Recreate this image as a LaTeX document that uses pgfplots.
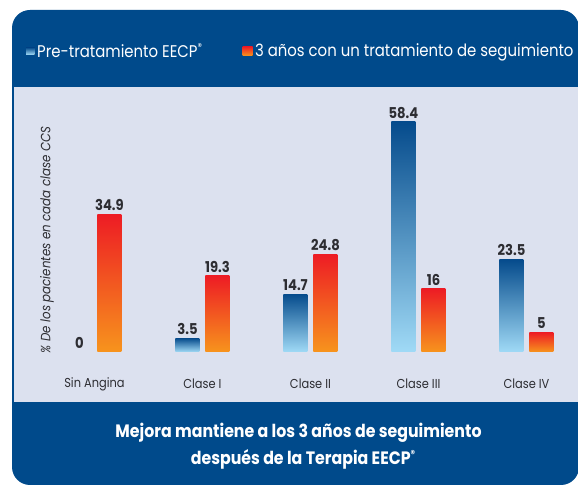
\documentclass[border=0pt]{standalone}
\usepackage{fontspec}
\setmainfont{Poppins}[FakeStretch=0.88]
\usepackage{pgfplots}
\pgfplotsset{compat=1.18}
\definecolor{hdr}{RGB}{0,74,139}
\definecolor{lav}{RGB}{220,225,239}
\definecolor{bdark}{RGB}{5,75,140}
\definecolor{blight}{RGB}{160,218,246}
\definecolor{rtop}{RGB}{237,28,36}
\definecolor{rbot}{RGB}{247,148,29}
\definecolor{txt}{RGB}{45,45,50}
\newcommand{\reg}{\raisebox{0.4em}{\fontsize{10}{10}\selectfont ®}}
\pgfplotsset{
  bblue/.style={ybar, bar width=24bp, bar shift=-15bp, draw=none, top color=bdark, bottom color=blight,
    every node near coord/.append style={xshift=-15bp}},
  bred/.style={ybar, bar width=24bp, bar shift=15bp, draw=none, top color=rtop, bottom color=rbot,
    every node near coord/.append style={xshift=15bp}},
}
\begin{document}
\begin{tikzpicture}[x=1bp,y=1bp]
\useasboundingbox (0,0) rectangle (578,486);
\fill[hdr, rounded corners=18bp] (12,1) rectangle (579,476);
\begin{axis}[
  at={(14bp,84bp)}, anchor=south west, scale only axis,
  width=564bp, height=315bp,
  xmin=-0.745, xmax=4.477, ymin=-12.69, ymax=67.26,
  axis background/.style={fill=lav},
  axis line style={draw=none},
  ytick=\empty,
  xtick={0,1,2,3,4},
  xticklabels={Sin Angina, Clase I, Clase II, Clase III, Clase IV},
  major tick length=0pt,
  xticklabel style={anchor=center, yshift=18bp, font=\fontsize{13}{15}\selectfont, text=txt},
  nodes near coords,
  every node near coord/.append style={font=\bfseries\fontsize{15}{17}\selectfont, text=txt},
  /pgf/number format/assume math mode=true,
  ylabel={\% De los pacientes en cada clase CCS},
  every axis y label/.style={at={(rel axis cs:0.0585,0.515)}, rotate=90, anchor=center, font=\itshape\fontsize{13.5}{15}\selectfont, text=txt},
  legend style={at={(rel axis cs:0.0213,1.114)}, anchor=west, draw=none, fill=none,
    text=white, font=\fontsize{17}{19}\selectfont, inner sep=0pt,
    /tikz/every even column/.append style={column sep=38bp},
    nodes={inner sep=2.5bp}},
  legend columns=2,
  clip=false,
]
% Pre-tratamiento EECP
\addplot[bblue, legend image code/.code={\fill[top color=bdark, bottom color=blight] (0bp,-3.5bp) rectangle (8.5bp,3.5bp);}]
  coordinates {(0,0)};
\addlegendentry{Pre-tratamiento EECP\reg}
\addplot[bblue, forget plot] coordinates {(1,3.5)};
\addplot[bblue, forget plot] coordinates {(2,14.7)};
\addplot[bblue, forget plot] coordinates {(3,58.4)};
\addplot[bblue, forget plot] coordinates {(4,23.5)};
% 3 anos
\addplot[bred, legend image code/.code={\fill[top color=rtop, bottom color=rbot] (0bp,-4.5bp) rectangle (10bp,4.5bp);}]
  coordinates {(0,34.9)};
\addlegendentry{3 años con un tratamiento de seguimiento}
\addplot[bred, forget plot] coordinates {(1,19.3)};
\addplot[bred, forget plot] coordinates {(2,24.8)};
\addplot[bred, forget plot] coordinates {(3,16)};
\addplot[bred, forget plot] coordinates {(4,5)};
\end{axis}
\node[anchor=base, text=white, font=\bfseries\fontsize{18}{20}\selectfont] at (298.5,48) {Mejora mantiene a los 3 años de seguimiento};
\node[anchor=base, text=white, font=\bfseries\fontsize{18}{20}\selectfont] at (303,21) {después de la Terapia EECP\reg};
\end{tikzpicture}
\end{document}
